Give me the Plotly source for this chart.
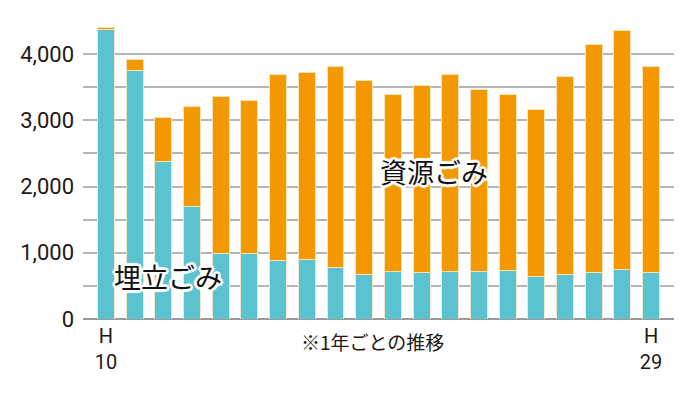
import plotly.graph_objects as go

years = ["H10", "H11", "H12", "H13", "H14", "H15", "H16", "H17", "H18", "H19",
         "H20", "H21", "H22", "H23", "H24", "H25", "H26", "H27", "H28", "H29"]
landfill = [4365, 3753, 2380, 1693, 982, 982, 881, 892, 782, 677,
            722, 707, 711, 722, 726, 646, 671, 696, 746, 707]
totals = [4406, 3914, 3038, 3203, 3362, 3298, 3689, 3723, 3814, 3609,
          3383, 3523, 3693, 3459, 3383, 3162, 3659, 4150, 4361, 3809]
recycle = [t - l for t, l in zip(totals, landfill)]

y_tickvals = [0, 500, 1000, 1500, 2000, 2500, 3000, 3500, 4000, 4500]
y_ticktext = ["0", "", "1,000", "", "2,000", "", "3,000", "", "4,000", ""]
x_ticktext = ["H<br>10", "H<br>29"]

FONT = "Roboto, 'Noto Sans CJK JP', sans-serif"
JP = "'Noto Sans CJK JP', sans-serif"
TXT = "#231815"

fig = go.Figure()
fig.add_trace(go.Bar(x=years, y=landfill, name="埋立ごみ",
                     marker=dict(color="#5BC3CF", line=dict(color="#EFE7C9", width=1))))
fig.add_trace(go.Bar(x=years, y=recycle, name="資源ごみ",
                     marker=dict(color="#F39800", line=dict(color="#F8E3B5", width=1))))

shadow = ("white 2px 0 0, white -2px 0 0, white 0 2px 0, white 0 -2px 0, "
          "white 2px 2px 0, white -2px -2px 0, white 2px -2px 0, white -2px 2px 0, "
          "white 3px 0 1px, white -3px 0 1px, white 0 3px 1px, white 0 -3px 1px")

fig.update_layout(
    width=692, height=387,
    barmode="stack", bargap=0.41,
    showlegend=False,
    plot_bgcolor="white", paper_bgcolor="white",
    margin=dict(l=75, r=26, t=13, b=76),
    font=dict(family=FONT, size=20, color=TXT),
    xaxis=dict(type="category", range=[-0.8, 19.8],
               tickmode="array", tickvals=[years[0], years[-1]], ticktext=x_ticktext,
               showgrid=False, showline=False, ticks="", ticklabelstandoff=3,
               tickfont=dict(size=20, color=TXT, family=FONT)),
    yaxis=dict(range=[0, 4500], tickmode="array", tickvals=y_tickvals, ticktext=y_ticktext,
               showgrid=True, gridcolor="#B5B5B5", gridwidth=1.5,
               zeroline=True, zerolinecolor="#9A9A9A", zerolinewidth=1.5,
               ticks="", ticklabelstandoff=8,
               tickfont=dict(size=22, color=TXT, family=FONT)),
    annotations=[
        dict(x=0.49, xref="paper", y=-0.074, yref="paper", yanchor="middle",
             text="※1年ごとの推移", showarrow=False,
             font=dict(size=19, color=TXT, family=JP)),
        dict(x=2.15, xref="x", y=640, yref="y", text="埋立ごみ", showarrow=False,
             font=dict(size=27, color="#111111", family=JP, shadow=shadow)),
        dict(x=11.45, xref="x", y=2230, yref="y", text="資源ごみ", showarrow=False,
             font=dict(size=27, color="#111111", family=JP, shadow=shadow)),
    ],
)

fig.write_html("out.html")
